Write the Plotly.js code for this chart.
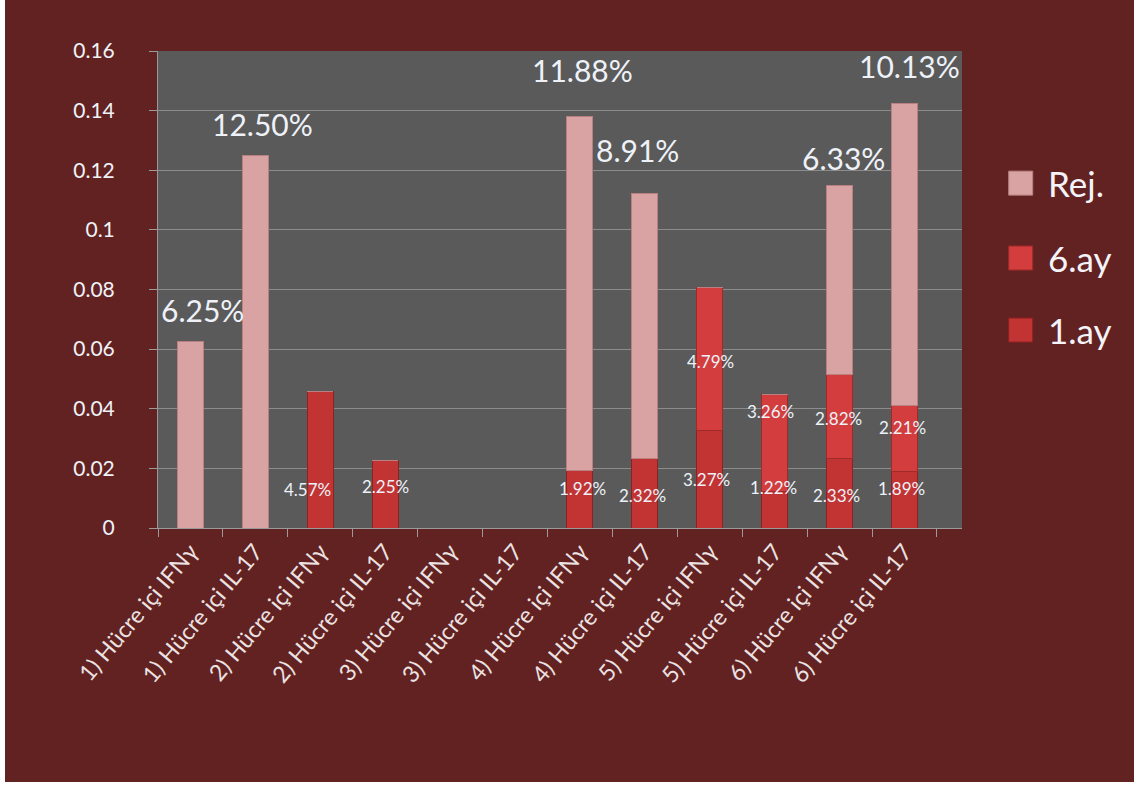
<!DOCTYPE html>
<html>
<head>
<meta charset="utf-8">
<script src="https://cdn.plot.ly/plotly-3.0.1.min.js"></script>
<style>
html,body{margin:0;padding:0;background:#ffffff;}
#chart{position:absolute;left:5px;top:0;width:1129px;height:782px;}
</style>
</head>
<body>
<div id="chart"></div>
<script>
var categories = ["1) Hücre içi IFNγ","1) Hücre içi IL-17","2) Hücre içi IFNγ","2) Hücre içi IL-17","3) Hücre içi IFNγ","3) Hücre içi IL-17","4) Hücre içi IFNγ","4) Hücre içi IL-17","5) Hücre içi IFNγ","5) Hücre içi IL-17","6) Hücre içi IFNγ","6) Hücre içi IL-17"];
var ay1 = [0, 0, 0.0457, 0.0225, 0, 0, 0.0192, 0.0232, 0.0327, 0.0122, 0.0233, 0.0189];
var ay6 = [0, 0, 0, 0, 0, 0, 0, 0, 0.0479, 0.0326, 0.0282, 0.0221];
var rej = [0.0625, 0.125, 0, 0, 0, 0, 0.1188, 0.0891, 0, 0, 0.0633, 0.1013];
var seriesNames = ["1.ay", "6.ay", "Rej."];
var yTicks = [0, 0.02, 0.04, 0.06, 0.08, 0.1, 0.12, 0.14, 0.16];

// label offsets (style only)
var ay1Shift = [[0,0],[0,0],[-13,-30],[0,8],[0,0],[0,0],[3,11],[-2,-2],[-3,0],[-1,22],[-3,-2],[-3,11]];
var ay6Shift = [[0,0],[0,0],[0,0],[0,0],[0,0],[0,0],[0,0],[0,0],[1,-2],[-4,32],[-1,-2],[-2,11]];
var rejShift = [[12,32],[7,31],[0,0],[0,0],[0,0],[0,0],[3,47],[-7,43],[0,0],[0,0],[4,28],[5,38]];

var FONT = "Lato, 'Open Sans', sans-serif";
var colors = ["#c23434", "#d43d3d", "#d9a3a3"];
var lines = ["#8e2222", "#9e2a2a", "#b88080"];
var vals = [ay1, ay6, rej];

var traces = vals.map(function(v, k){
  return {
    type: "bar", x: categories, y: v, name: seriesNames[k],
    width: 0.4,
    marker: {color: colors[k], line: {color: lines[k], width: 1}},
    hoverinfo: "x+y+name",
    showlegend: false
  };
});

function pct(v){ return (v*100).toFixed(2) + "%"; }

var annotations = [];
categories.forEach(function(c, i){
  var base = 0;
  [[ay1, ay1Shift], [ay6, ay6Shift]].forEach(function(s){
    var v = s[0][i];
    if (v > 0) {
      annotations.push({x: c, y: base + v/2, xref: "x", yref: "y", text: pct(v), showarrow: false,
        xshift: s[1][i][0], yshift: s[1][i][1],
        font: {family: FONT, size: 17, color: "#eef2f8"}});
    }
    base += v;
  });
  if (rej[i] > 0) {
    annotations.push({x: c, y: base + rej[i], xref: "x", yref: "y", text: pct(rej[i]), showarrow: false,
      xshift: rejShift[i][0], yshift: rejShift[i][1],
      font: {family: FONT, size: 30, color: "#eef2f8"}});
  }
});

// custom legend (Rej. on top)
var legendY = [0.415, 0.566, 0.723];
var shapes = [];
seriesNames.forEach(function(n, k){
  shapes.push({type: "rect", xref: "paper", yref: "paper", xsizemode: "pixel", ysizemode: "pixel",
    xanchor: 1.073, yanchor: legendY[k], x0: -12, x1: 12, y0: -12, y1: 12,
    fillcolor: colors[k], line: {color: lines[k], width: 1}});
  annotations.push({xref: "paper", yref: "paper", x: 1.104, y: legendY[k], xanchor: "left", yanchor: "middle",
    text: n, showarrow: false, font: {family: FONT, size: 35, color: "#f4f4f8"}});
});

var layout = {
  width: 1129, height: 782,
  paper_bgcolor: "#622222",
  plot_bgcolor: "#5a5a5a",
  barmode: "stack",
  margin: {l: 153, r: 172, t: 51, b: 254},
  font: {family: FONT, color: "#f0f0f0"},
  showlegend: false,
  xaxis: {
    type: "category",
    tickangle: -50,
    tickson: "boundaries",
    ticks: "outside", ticklen: 8, tickcolor: "#9a9a9a",
    showline: true, linecolor: "#9a9a9a", linewidth: 1,
    showgrid: false,
    tickfont: {family: FONT, size: 23, color: "#ece2e2"},
    automargin: false
  },
  yaxis: {
    range: [0, 0.16],
    tickvals: yTicks,
    ticks: "outside", ticklen: 8, tickcolor: "#9a9a9a",
    showline: true, linecolor: "#9a9a9a", linewidth: 1,
    gridcolor: "#8c8c8c", gridwidth: 1,
    zeroline: false,
    ticklabelstandoff: 30,
    tickfont: {family: FONT, size: 21, color: "#f0f2f8"},
    automargin: false
  },
  shapes: shapes,
  annotations: annotations
};

Plotly.newPlot("chart", traces, layout, {displayModeBar: false, staticPlot: true});
</script>
</body>
</html>
